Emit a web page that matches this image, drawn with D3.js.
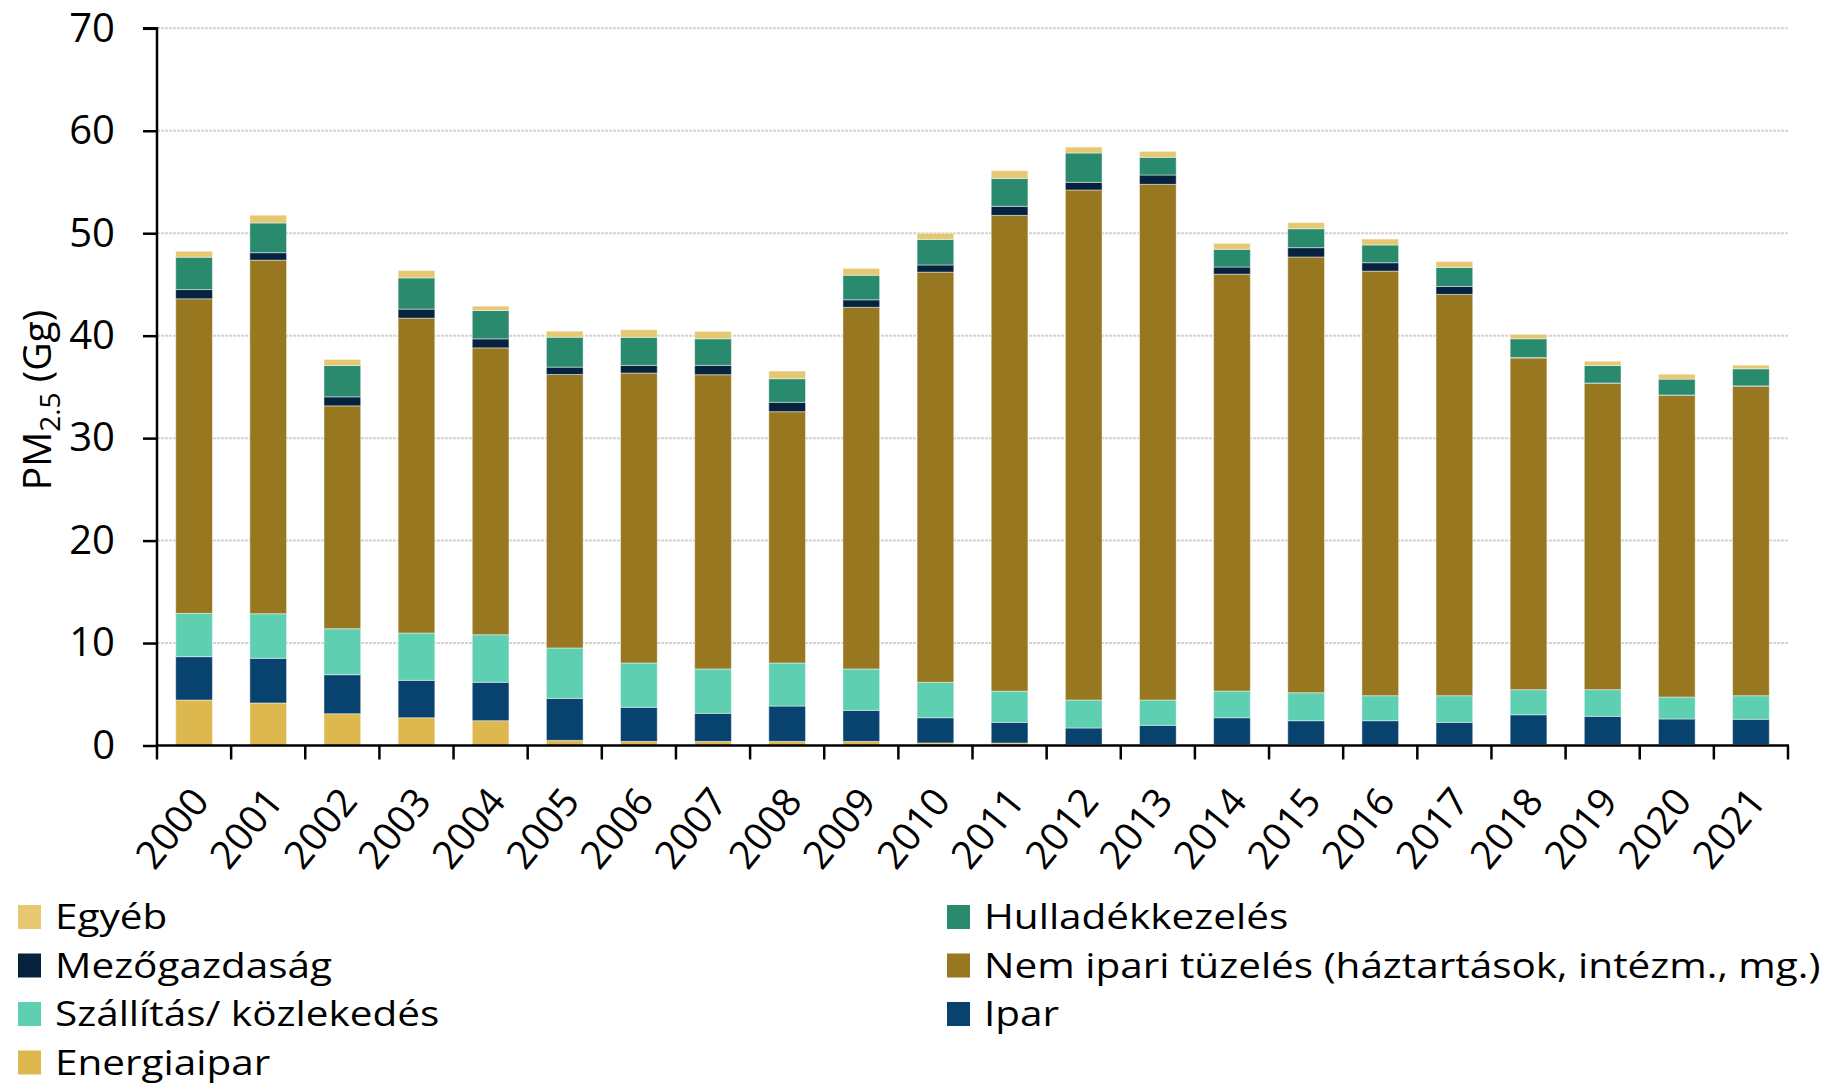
<!DOCTYPE html>
<html><head><meta charset="utf-8">
<script src="https://cdn.jsdelivr.net/npm/d3@7"></script>
<style>body{margin:0;background:#fff;} svg{display:block}</style>
</head><body>
<svg id="chart" width="1837" height="1084"></svg>
<script>
const years = ["2000","2001","2002","2003","2004","2005","2006","2007","2008","2009","2010","2011","2012","2013","2014","2015","2016","2017","2018","2019","2020","2021"];
const energiaipar = [4.44,4.15,3.10,2.71,2.42,0.50,0.40,0.40,0.40,0.40,0.25,0.24,0.10,0.10,0.10,0.10,0.05,0.10,0.10,0.10,0.10,0.10];
const ipar        = [4.23,4.36,3.81,3.65,3.75,4.10,3.33,2.74,3.45,3.03,2.46,2.02,1.61,1.87,2.61,2.32,2.37,2.16,2.90,2.75,2.49,2.46];
const szallitas   = [4.23,4.35,4.49,4.62,4.64,4.92,4.32,4.33,4.20,4.04,3.46,3.04,2.73,2.47,2.61,2.73,2.44,2.60,2.45,2.60,2.14,2.30];
const nemIpari    = [30.70,34.51,21.75,30.73,28.00,26.69,28.30,28.72,24.53,35.30,40.03,46.44,49.78,50.33,40.68,42.53,41.44,39.17,32.37,29.88,29.43,30.19];
const mezogazd    = [0.90,0.73,0.88,0.88,0.88,0.72,0.75,0.91,0.92,0.73,0.70,0.88,0.75,0.91,0.70,0.91,0.82,0.77,0.05,0.05,0.05,0.05];
const hulladek    = [3.16,2.90,3.06,3.05,2.77,2.92,2.74,2.60,2.30,2.40,2.50,2.73,2.86,1.73,1.73,1.85,1.73,1.86,1.83,1.71,1.55,1.67];
const egyeb       = [0.58,0.76,0.59,0.72,0.42,0.59,0.74,0.72,0.75,0.67,0.60,0.75,0.58,0.58,0.58,0.59,0.58,0.58,0.43,0.42,0.48,0.35];
const yTicks = [0,10,20,30,40,50,60,70];

const series = [
  {key:"Energiaipar", label:"Energiaipar", values:energiaipar, color:"#DDB84F"},
  {key:"Ipar", label:"Ipar", values:ipar, color:"#08426F"},
  {key:"Szallitas", label:"Szállítás/ közlekedés", values:szallitas, color:"#5ECFB1"},
  {key:"NemIpari", label:"Nem ipari tüzelés (háztartások, intézm., mg.)", values:nemIpari, color:"#97771F"},
  {key:"Mezo", label:"Mezőgazdaság", values:mezogazd, color:"#06223F"},
  {key:"Hulladek", label:"Hulladékkezelés", values:hulladek, color:"#2A8A6E"},
  {key:"Egyeb", label:"Egyéb", values:egyeb, color:"#E6C873"}
];
const legendOrder = ["Egyeb","Hulladek","Mezo","NemIpari","Szallitas","Ipar","Energiaipar"];

const table = years.map((yv,i)=>{const o={year:yv}; series.forEach(s=>o[s.key]=s.values[i]); return o;});
const stackData = d3.stack().keys(series.map(s=>s.key))(table);

const svg = d3.select("#chart");
const pLeft=157, pRight=1788, pTop=28.3, pBottom=745.5;
const x = d3.scaleBand().domain(years).range([pLeft,pRight]).paddingInner(0.505).paddingOuter(0.2525);
const xb = d3.scaleBand().domain(years).range([pLeft,pRight]);
const y = d3.scaleLinear().domain([0,70]).range([pBottom,pTop]);
const font = "'Open Sans', sans-serif";

// gridlines
svg.append("g").selectAll("line").data(yTicks.filter(t=>t>0)).join("line")
  .attr("x1",pLeft).attr("x2",pRight).attr("y1",d=>y(d)).attr("y2",d=>y(d))
  .attr("stroke","#d4d4d4").attr("stroke-width",2).attr("stroke-dasharray","3,1");

// bars
const colorOf = Object.fromEntries(series.map(s=>[s.key,s.color]));
svg.append("g").selectAll("g").data(stackData).join("g").attr("fill",d=>colorOf[d.key])
  .selectAll("rect").data(d=>d).join("rect")
  .attr("x",d=>x(d.data.year)).attr("width",x.bandwidth())
  .attr("y",d=>y(d[1])).attr("height",d=>Math.max(0,y(d[0])-y(d[1])))
  .attr("stroke","#ffffff").attr("stroke-opacity",0.45).attr("stroke-width",1);

// y axis
const yAxis = d3.axisLeft(y).tickValues(yTicks).tickSize(14).tickPadding(28);
const gy = svg.append("g").attr("transform",`translate(${pLeft},0)`).call(yAxis);
gy.select(".domain").attr("stroke","#000").attr("stroke-width",2.5).attr("d",`M-14,${pTop}H0V${pBottom}`);
gy.selectAll(".tick line").attr("stroke","#000").attr("stroke-width",2.5);
gy.selectAll(".tick text").attr("font-family",font).attr("font-size",40).attr("fill","#000");

// x axis with ticks at band boundaries
const gx = svg.append("g").attr("transform",`translate(0,${pBottom})`);
gx.append("line").attr("x1",pLeft-1).attr("x2",pRight+1).attr("y1",0).attr("y2",0).attr("stroke","#000").attr("stroke-width",2.5);
const bounds = years.map(yv=>xb(yv)).concat([pRight]);
gx.selectAll("line.tk").data(bounds).join("line").attr("class","tk")
  .attr("x1",d=>d).attr("x2",d=>d).attr("y1",0).attr("y2",14).attr("stroke","#000").attr("stroke-width",2.5);
gx.selectAll("text").data(years).join("text")
  .attr("transform",d=>`translate(${xb(d)+xb.bandwidth()/2+6},${48}) rotate(-51)`)
  .attr("text-anchor","end").attr("dy","0.35em")
  .attr("font-family",font).attr("font-size",39).attr("fill","#000").text(d=>d);

// y title
const yt = svg.append("text").attr("transform",`translate(51,${400}) rotate(-90)`)
  .attr("text-anchor","middle").attr("font-family",font).attr("font-size",39).attr("fill","#000");
yt.append("tspan").text("PM");
yt.append("tspan").attr("font-size",28).attr("dy",9).text("2.5");
yt.append("tspan").attr("dy",-9).text(" (Gg)");

// legend
const legItems = legendOrder.map(k=>series.find(s=>s.key===k));
const lg = svg.append("g");
const li = lg.selectAll("g").data(legItems).join("g")
  .attr("transform",(d,i)=>`translate(${i%2===0?18:947},${917+Math.floor(i/2)*48.5})`);
li.append("rect").attr("x",0).attr("y",-12).attr("width",23).attr("height",24).attr("fill",d=>d.color);
li.append("text").attr("transform","translate(37,0) scale(1.157,1)").attr("dy","0.35em")
  .attr("font-family",font).attr("font-size",35).attr("fill","#000").text(d=>d.label);
</script>
</body></html>
